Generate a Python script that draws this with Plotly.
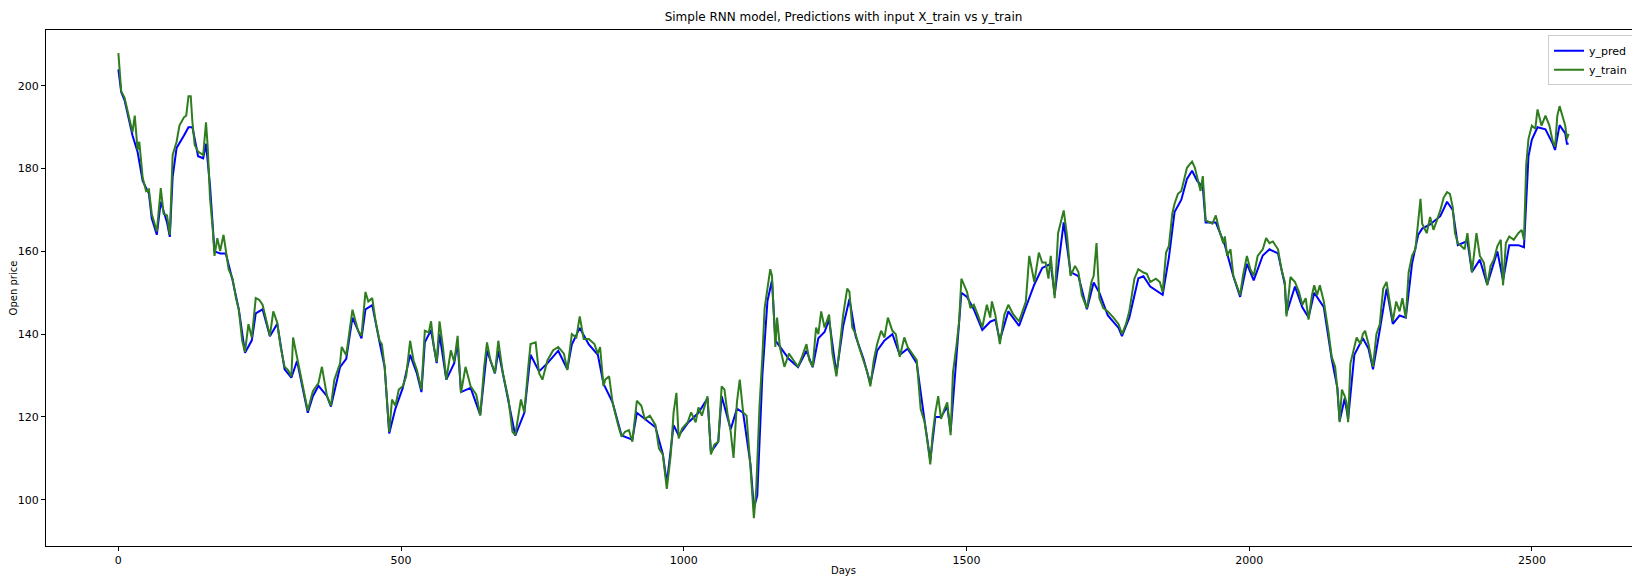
import plotly.graph_objects as go

train_days = [0,2,5,11,18,25,29,34,37,43,49,54,59,68,75,80,86,91,96,103,108,116,120,124,128,131,135,141,150,155,158,162,167,170,175,180,186,190,195,202,208,213,219,224,230,236,243,249,255,262,268,274,281,287,294,300,306,309,316,325,335,344,354,360,369,376,382,392,395,403,409,414,424,430,437,442,449,455,462,466,471,476,479,484,490,496,503,509,516,522,528,536,542,549,553,558,563,568,574,580,588,594,600,606,614,623,633,640,647,652,658,666,672,680,690,697,702,712,718,725,729,738,744,750,759,769,778,788,794,802,810,816,823,832,842,848,
852,858,861,868,874,884,890,896,903,909,917,925,931,940,950,956,963,970,977,982,987,991,997,1007,1013,1021,1026,1032,1042,1048,1054,1061,1067,1072,1077,1083,1088,1094,1099,1105,1111,1118,1124,1128,1134,1139,1143,1148,1153,1156,1159,1162,1165,1170,1178,1186,1194,1202,1209,1217,1222,1228,1234,1238,1243,1249,1257,1263,1270,1274,1282,1289,1293,1298,1304,1310,1318,1325,1330,1336,1342,1349,1355,1361,1369,1375,1382,1390,1396,1404,1412,1419,1426,1431,1436,1440,1445,1450,1455,1461,1466,1472,1476,1482,1487,1491,1496,1501,1507,1513,1520,1528,1536,1542,1545,1551,1559,1567,1574,1583,1593,1601,1605,1611,1620,1628,1634,1640,1645,1649,1656,1662,1666,1672,1678,1684,1692,1698,1704,1713,1721,1725,1730,1735,1742,1750,1760,1769,1775,1782,1788,1797,1804,1813,
1819,1825,1835,1842,1847,1853,1858,1864,1868,1874,1880,1885,1890,1894,1899,1904,1908,1914,1918,1923,1929,1935,1941,1947,1954,1957,1961,1967,1972,1978,1984,1989,1996,2002,2008,2015,2024,2030,2036,2042,2051,2057,2063,2066,2073,2081,2088,2094,2100,2105,2111,2115,2120,2125,2132,2140,2146,2152,2156,2160,2164,2169,2172,2175,2179,2186,2190,2197,2201,2205,2211,2219,2225,2231,2237,2243,2248,2254,2260,2266,2271,2277,2282,2288,2294,2299,2303,2306,2314,2320,2326,2332,2338,2344,2350,2355,2360,2364,2369,2375,2381,2386,2390,2394,2402,2408,2415,2421,2427,2433,2439,2445,2449,2454,2460,2468,2476,2482,2486,2490,2494,2500,2506,2510,2517,2524,2531,2537,2541,2545,2549,2554,2559,2562,2565]

y_train = [207.9,204.2,198.7,197.1,193.1,188.8,192.8,184.5,186.5,177.8,174.6,175,169.1,164.8,175.3,169.1,168.7,164,183.3,186.5,190.4,192.4,192.8,197.5,197.5,191.2,185.7,184.1,183.3,191.2,185.3,173.1,165.2,158.9,163.2,160.1,164,160.1,155.7,153.4,148.7,145.9,138.4,135.7,142.4,139.2,148.7,148.3,147.1,143.1,139.6,145.5,142.8,136.9,132.1,131.3,129.8,139.2,134.5,128.2,121.5,126.2,128.2,132.1,125,122.7,129,132.9,136.9,134.9,141.6,145.9,140.8,139.6,150.2,147.9,148.7,143.1,138.4,137.6,132.1,122.7,116.4,124.2,122.7,126.6,127.4,129.8,138.4,133.7,131.3,126.6,140.8,140.4,143.1,136.9,133.3,143.1,136.9,129,136.1,133.3,139.6,125.8,132.1,127.4,125.4,120.3,132.1,138,133.7,130.6,138.4,130.6,124.2,116.4,115.6,124.2,121.1,132.1,137.6,138,130.6,129,133.7,136.1,136.9,135.3,131.3,140,139.2,144.3,138.8,138.8,137.6,135.3,
136.9,127.4,129,129.8,123.5,118,115.2,116.4,116.8,114,123.9,122.7,119.5,120.3,118,112.4,110.9,102.6,110.9,121.1,125.8,114.8,117.2,118.7,121.1,118.7,122.3,120.3,125,110.9,113.3,114,127.4,126.6,121.1,116.4,110.1,123.5,129,121.1,120.3,107.7,95.5,102.2,122.7,134.5,146.3,151,155.7,154.1,145.5,136.9,144,136.9,132.1,135.3,133.7,132.1,134.5,137.6,133.7,132.1,141.6,140,145.5,141.6,144.7,135.3,129.8,134.5,144.7,151,150.2,141.6,140,136.9,133.7,130.6,127.4,133.7,137.6,140.8,139.2,144,140.8,140,134.5,139.2,136.9,135.3,133.7,121.9,118.7,114,108.5,115.6,121.1,125,119.5,121.9,123.5,115.6,130.6,136.9,143.1,153.4,151.8,150.2,146.3,147.1,144.7,141.6,147.1,144,147.9,144.7,137.6,144.7,147.1,144.7,143.1,146.3,147.9,158.9,152.6,159.7,157.3,157.3,153.4,158.9,148.7,164.4,166.8,169.9,163.6,154.1,156.5,155,149.4,146.3,152.6,154.1,162,148.7,146.3,145.5,144,142.4,140,142.4,145.5,153.4,155.7,154.9,
154.6,152.6,153.4,152.6,150.2,159.7,161.3,169.1,171.5,173.9,174.6,177.8,180.2,180.9,181.7,180.2,177.8,174.6,178.2,167.5,167.1,166.7,168.7,165.2,162,163.6,158.9,160.5,154.1,151.8,149.4,154.1,158.9,155.7,154.1,158.9,160.5,163.2,162,162.4,160.5,155.7,152.6,144.3,153.8,152.6,150.2,147.1,148.7,143.5,149.4,151.8,149.4,151.8,147.9,140.8,134.5,132.1,126.6,118.7,126.6,125,123.5,118.7,132.9,136.9,139.2,137.6,140,140.8,137.6,132.1,140,142.4,151,152.6,148.7,143.1,147.9,145.5,148.7,143.9,154.9,158.9,160.5,166.7,172.7,166.7,164.4,168.3,165.2,167.5,169.9,173,174.3,173.9,170.7,164.4,162,161.3,160.5,164.4,158.9,154.9,164.4,158.9,157.3,151.8,156.5,158.1,161.3,162.8,151.8,162,163.6,162.8,164.4,165.2,162.8,180.9,187.2,190.4,189.6,194.3,190.4,192.8,190.4,186.5,185.3,192.8,195.1,192.4,190.4,187.2,188.4]

pred_days = [0,5,11,18,25,34,43,54,59,68,75,86,91,96,103,116,124,131,141,150,155,162,170,180,190,202,213,224,236,243,255,268,281,294,306,316,335,344,354,369,376,392,403,414,430,437,449,462,471,479,490,503,516,528,536,542,553,563,568,580,594,600,606,623,640,652,666,672,690,702,718,729,744,759,778,794,802,816,832,848,858,874,890,909,917,931,950,963,970,982,991,1007,1026,1042,1048,1061,1067,1083,1094,1105,1118,1124,1130,1139,1148,1156,1162,1170,1186,1202,1217,1228,1238,1249,1257,1270,1282,1293,1304,1318,1330,1342,1355,1369,1382,1396,1412,1426,1436,1445,1455,1466,1472,1482,1491,1501,1513,1528,1542,1551,1559,1574,1593,1605,1620,1634,1649,1656,1672,1684,1698,1713,1725,1735,1750,1769,1775,1788,1804,1813,1825,1847,1858,1868,1880,1890,1899,1908,1918,1923,1941,1957,1972,1984,1996,2008,2024,2036,2051,2063,2066,2081,2094,2105,2115,2132,2146,2156,2160,2169,2175,2186,2201,2211,2219,2231,2243,2254,2266,2277,2288,2299,2306,2320,2338,2350,2360,2369,2386,2394,2408,2421,2439,2449,2460,2476,2486,2494,2500,2510,2524,2537,2541,2549,2559,2562,2565]

y_pred = [204,198.5,196.5,192,188,184,177,174,168,164,172,167,163.5,178,185,188,190,190,183,182.5,186,176,160,159.5,159.5,153,146,135.5,138.5,145,146,139.5,142.5,131.5,129.5,133.5,121,125,127.5,125,122.5,132,134,144,139,146,147,138,132,116,122,127,135,130.5,126,138,141,133,140,129,133,138,126,127,120.5,136,130.5,136,124,115.5,121,135,131,133,136,131.5,137.5,141.5,137.5,135,128,123.5,115.5,114.5,121,119.5,117.5,111,104,118,115.5,118.5,121,124.5,111.5,114,125,117,122,121,108.5,98,101,130,148,153,138.5,137,134,132,136,132,139,140.5,143.5,130.5,142,148.5,139.5,134,128,136,138.5,140,135,136.5,133,119,109.5,120,120,122.5,116.5,134,150,149,146,141,143,143.5,138.5,145.5,142,146.5,152,156,157,149.5,167,155,154,146,152.5,150,144.5,141.5,139.5,144,153.5,154,151.5,149.5,158.5,169.5,172.5,177.5,179.5,177,175.5,167,167,161.5,154,149,157,153,159,160.5,159.5,152,145,151.5,146.5,144,150,146.5,134,127,119,124.5,119.5,135,139,136.5,131.5,141,151,142.5,144.5,144,157,164,165.5,166.5,168.5,172,170,161.5,162.5,155,158,152,160,153,161.5,161.5,161,183,187,190,189.5,186,184.5,190.5,188.5,186,186]

x_ticks = [0, 500, 1000, 1500, 2000, 2500]
y_ticks = [100, 120, 140, 160, 180, 200]

fig = go.Figure()
fig.add_trace(go.Scatter(x=pred_days, y=y_pred, mode="lines", name="y_pred",
                         line=dict(color="#0000ff", width=2)))
fig.add_trace(go.Scatter(x=train_days, y=y_train, mode="lines", name="y_train",
                         line=dict(color="#2e7d1e", width=2)))

axis_common = dict(showgrid=False, zeroline=False, showline=True, linecolor="black",
                   linewidth=1, mirror=True, ticks="outside", ticklen=4,
                   tickcolor="black", tickfont=dict(size=11, color="black"),
                   automargin=False)
fig.update_layout(
    width=1640, height=580,
    margin=dict(l=38, r=7, t=22, b=42),
    paper_bgcolor="white", plot_bgcolor="white",
    font=dict(family="DejaVu Sans", size=11, color="black"),
    title=dict(text="Simple RNN model, Predictions with input X_train vs y_train",
               x=0.5, xanchor="center", xref="paper", y=0.992, yanchor="top",
               font=dict(size=12, color="black"), automargin=False),
    xaxis=dict(range=[-128, 2693], tickvals=x_ticks,
               title=dict(text="Days", standoff=0, font=dict(size=10)), **axis_common),
    yaxis=dict(range=[88.8, 213.5], tickvals=y_ticks,
               title=dict(text="Open price", standoff=2, font=dict(size=10)), **axis_common),
    legend=dict(x=0.995, y=0.99, xanchor="right", yanchor="top",
                bgcolor="rgba(255,255,255,0.8)", bordercolor="#cccccc", borderwidth=1,
                font=dict(size=11)),
    showlegend=True,
)
fig.write_html("out.html")
